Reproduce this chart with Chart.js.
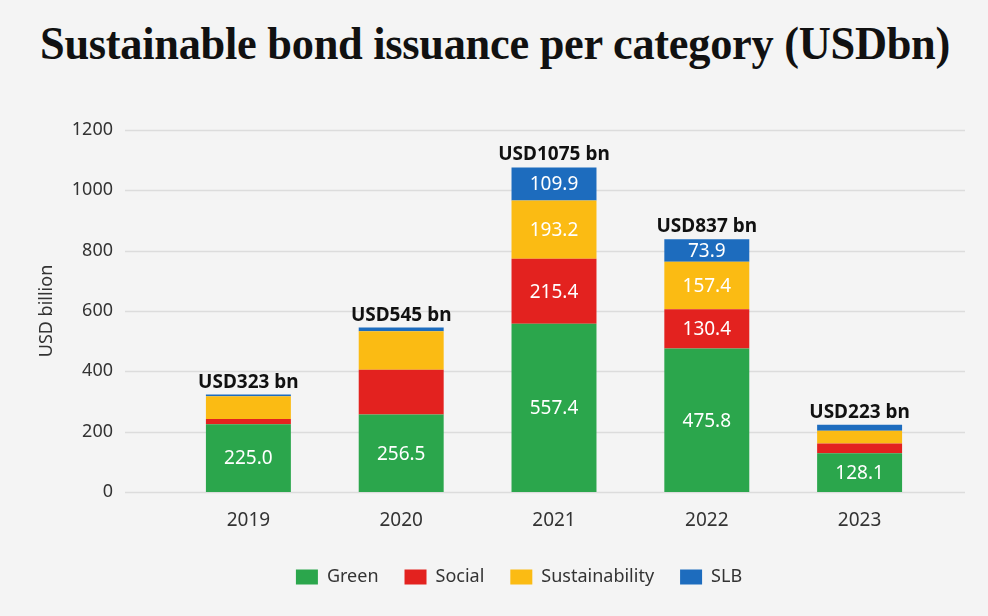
<!DOCTYPE html>
<html>
<head>
<meta charset="utf-8">
<script src="https://cdn.jsdelivr.net/npm/chart.js@4.4.1/dist/chart.umd.min.js"></script>
<style>
  html, body { margin: 0; padding: 0; background: #f4f4f4; }
  #wrap { position: relative; width: 988px; height: 616px; overflow: hidden; background: #f4f4f4; }
  #title {
    position: absolute; left: 40px; top: 15px; margin: 0;
    font-family: "Liberation Serif", "DejaVu Serif", serif; font-weight: bold;
    font-size: 47px; line-height: 56px; color: #111; white-space: nowrap;
    transform-origin: 0 0; letter-spacing: -0.3px;
  }
  canvas { position: absolute; left: 0; top: 0; }
</style>
</head>
<body>
<div id="wrap">
  <h1 id="title">Sustainable bond issuance per category (USDbn)</h1>
  <canvas id="chart" width="988" height="616"></canvas>
</div>
<script>
// Issuance by year and bond type, USD billion
const years = ['2019', '2020', '2021', '2022', '2023'];
const green = [225.0, 256.5, 557.4, 475.8, 128.1];
const social = [17.0, 149.0, 215.4, 130.4, 33.0];
const sustainability = [75.0, 127.0, 193.2, 157.4, 42.0];
const slb = [6.0, 12.5, 109.9, 73.9, 20.0];
const totals = [323, 545, 1075, 837, 223];
const yTicks = [0, 200, 400, 600, 800, 1000, 1200];

// Which segments carry a value label
const showGreen = [true, true, true, true, true];
const showSocial = [false, false, true, true, false];
const showSustainability = [false, false, true, true, false];
const showSlb = [false, false, true, true, false];

const COLORS = { green: '#2ba64c', social: '#e3221f', sustainability: '#fbbb13', slb: '#1d6cbe' };
const FONT = '"Noto Sans", "Open Sans", sans-serif';

// Fit the headline to its line width
(function fitTitle() {
  const t = document.getElementById('title');
  const w = t.getBoundingClientRect().width;
  t.style.transform = 'scaleX(' + (910 / w) + ')';
})();

const gridPlugin = {
  id: 'wideGrid',
  beforeDatasetsDraw(chart) {
    const { ctx, scales: { y } } = chart;
    ctx.save();
    ctx.strokeStyle = '#dcdcdc';
    ctx.lineWidth = 1.5;
    yTicks.forEach(v => {
      const py = Math.round(y.getPixelForValue(v)) + 0.5;
      ctx.beginPath();
      ctx.moveTo(125, py);
      ctx.lineTo(965, py);
      ctx.stroke();
    });
    ctx.restore();
  }
};

// Legend sits a little right of the full-width centre
const legendShift = {
  id: 'legendShift',
  afterLayout(chart) {
    const lg = chart.legend;
    if (lg) { lg.left += 34; lg.right += 34; }
  }
};

const labelPlugin = {
  id: 'segmentLabels',
  afterDatasetsDraw(chart) {
    const { ctx } = chart;
    const flags = [showGreen, showSocial, showSustainability, showSlb];
    ctx.save();
    ctx.textAlign = 'center';
    ctx.textBaseline = 'middle';
    ctx.font = '19px ' + FONT;
    ctx.fillStyle = '#ffffff';
    chart.data.datasets.forEach((ds, di) => {
      const meta = chart.getDatasetMeta(di);
      meta.data.forEach((bar, i) => {
        if (!flags[di][i]) return;
        const cy = (bar.y + bar.base) / 2;
        ctx.fillText(ds.data[i].toFixed(1), bar.x, cy + 1);
      });
    });
    // Totals above each stack
    const topMeta = chart.getDatasetMeta(chart.data.datasets.length - 1);
    ctx.font = 'bold 19px ' + FONT;
    ctx.fillStyle = '#111111';
    ctx.textBaseline = 'alphabetic';
    topMeta.data.forEach((bar, i) => {
      ctx.fillText('USD' + totals[i] + ' bn', bar.x, bar.y - 7);
    });
    ctx.restore();
  }
};

new Chart(document.getElementById('chart'), {
  type: 'bar',
  data: {
    labels: years,
    datasets: [
      { label: 'Green', data: green, backgroundColor: COLORS.green },
      { label: 'Social', data: social, backgroundColor: COLORS.social },
      { label: 'Sustainability', data: sustainability, backgroundColor: COLORS.sustainability },
      { label: 'SLB', data: slb, backgroundColor: COLORS.slb }
    ]
  },
  options: {
    responsive: false,
    animation: false,
    devicePixelRatio: 1,
    layout: { padding: { left: 34, right: 52, top: 130, bottom: 20 } },
    datasets: { bar: { barPercentage: 1, categoryPercentage: 0.556, borderWidth: 0 } },
    plugins: {
      title: { display: false },
      tooltip: { enabled: false },
      legend: {
        position: 'bottom',
        labels: {
          font: { family: FONT, size: 18 },
          color: '#333333',
          boxWidth: 22,
          boxHeight: 15,
          padding: 26
        }
      }
    },
    scales: {
      x: {
        stacked: true,
        grid: { display: false, drawTicks: false },
        border: { display: false },
        ticks: { font: { family: FONT, size: 19 }, color: '#333333', padding: 17 },
        afterFit(scale) { scale.height = 50; }
      },
      y: {
        stacked: true,
        min: 0,
        max: 1200,
        afterBuildTicks(scale) { scale.ticks = yTicks.map(v => ({ value: v })); },
        grid: { display: false, drawTicks: false },
        border: { display: false },
        ticks: {
          font: { family: FONT, size: 18 }, color: '#333333', padding: 59,
          callback: v => String(v)
        },
        title: {
          display: true,
          text: 'USD billion',
          font: { family: FONT, size: 18 },
          color: '#333333',
          padding: { top: 2, bottom: 4 }
        },
        afterFit(scale) { scale.width = 138; }
      }
    }
  },
  plugins: [gridPlugin, legendShift, labelPlugin]
});
</script>
</body>
</html>
